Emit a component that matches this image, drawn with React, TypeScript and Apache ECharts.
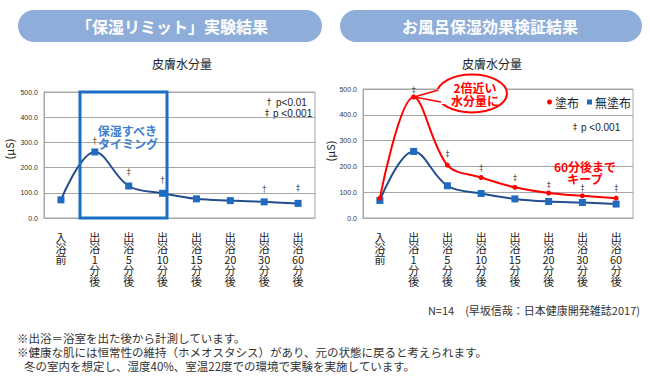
import React, { useEffect, useRef } from 'react';
import * as echarts from 'echarts';

const categories = ['入浴前', '出浴1分後', '出浴5分後', '出浴10分後', '出浴15分後', '出浴20分後', '出浴30分後', '出浴60分後'];
const yMin = 0;
const yMax = 500;
const yInterval = 100;

// 左：保湿リミット実験
const leftValues = [72, 262, 127, 98, 76, 69, 64, 58];
const leftSigMarks = ['', '†', '‡', '†', '', '', '†', '‡'];
const leftSigHeights: (number | null)[] = [null, 306, 183, 151, null, null, 119, 123];

// 右：お風呂保湿効果検証
const coatedValues = [77, 469, 205, 157, 119, 97, 86, 77];
const uncoatedValues = [68, 258, 125, 95, 74, 64, 60, 54];
const rightSigMarks = ['', '‡', '‡', '‡', '‡', '‡', '‡', '‡'];
const rightSigHeights: (number | null)[] = [null, 497, 249, 195, 156, 129, 117, 117];

const FONT = '"Noto Sans CJK JP", "Noto Sans", sans-serif';
const NUMFONT = '"Liberation Sans", Arial, sans-serif';
const MARKFONT = '"DejaVu Sans", sans-serif';
const BLUE_LINE = '#234E8E';
const BLUE_MARK = '#1F6BC0';
const RED = '#FF0000';
const GRID_GRAY = '#A6A6A6';
const PILL = '#8FADD9';
const MARK_COLOR = '#222';

const vertical = (s: string) => (s.match(/\d+|./g) || []).join('\n');

function makeAxes(gridIndex: number) {
  const x = {
    type: 'category',
    gridIndex,
    data: categories,
    boundaryGap: true,
    axisLine: { show: true, lineStyle: { color: GRID_GRAY } },
    axisTick: { show: false },
    axisLabel: {
      formatter: (v: string) => vertical(v),
      fontFamily: FONT,
      fontSize: 11,
      lineHeight: 10.8,
      color: '#222',
      margin: 14,
      interval: 0,
      verticalAlign: 'top',
    },
  };
  const y = {
    type: 'value',
    gridIndex,
    min: yMin,
    max: yMax,
    interval: yInterval,
    axisLine: { show: true, lineStyle: { color: GRID_GRAY } },
    axisTick: { show: false },
    splitLine: { show: true, lineStyle: { color: GRID_GRAY, width: 1 } },
    axisLabel: {
      formatter: (v: number) => v.toFixed(1),
      fontFamily: NUMFONT,
      fontSize: 7,
      color: '#333',
      margin: 6,
    },
  };
  return { x, y };
}

function sigSeries(name: string, axisIndex: number, marks: string[], heights: (number | null)[]) {
  return {
    name,
    type: 'scatter',
    xAxisIndex: axisIndex,
    yAxisIndex: axisIndex,
    symbol: 'circle',
    symbolSize: 0,
    itemStyle: { color: MARK_COLOR },
    silent: true,
    z: 5,
    data: heights.map((h, i) => (h == null ? [i, '-'] : [i, h])),
    label: {
      show: true,
      position: 'top',
      distance: -5,
      formatter: (p: any) => marks[p.dataIndex],
      fontFamily: MARKFONT,
      fontSize: 8,
      color: MARK_COLOR,
    },
  };
}

export default function App() {
  const ref = useRef<HTMLDivElement>(null);

  useEffect(() => {
    if (!ref.current) return;
    const chart = echarts.init(ref.current, undefined, { renderer: 'svg' });
    const a0 = makeAxes(0);
    const a1 = makeAxes(1);

    const tailWhite = [[414, 97], [438, 89], [446, 89], [446, 104], [441, 104]];

    chart.setOption({
      animation: false,
      backgroundColor: '#fff',
      textStyle: { fontFamily: FONT },
      grid: [
        { left: 44, top: 92, width: 271, height: 126, show: true, borderColor: GRID_GRAY, borderWidth: 1, backgroundColor: 'transparent' },
        { left: 363, top: 89, width: 270, height: 129, show: true, borderColor: GRID_GRAY, borderWidth: 1, backgroundColor: 'transparent' },
      ],
      xAxis: [a0.x, a1.x],
      yAxis: [a0.y, a1.y],
      legend: {
        left: 547,
        top: 96,
        itemWidth: 5,
        itemHeight: 5,
        itemGap: 8,
        padding: 0,
        textStyle: { fontFamily: FONT, fontSize: 12, color: '#222', padding: [0, 0, 0, -2] },
        data: [
          { name: '塗布', icon: 'circle', itemStyle: { color: RED } },
          { name: '無塗布', icon: 'rect', itemStyle: { color: BLUE_MARK } },
        ],
        selectedMode: false,
      },
      series: [
        {
          name: '皮膚水分量',
          type: 'line',
          xAxisIndex: 0,
          yAxisIndex: 0,
          data: leftValues,
          smooth: 0.38,
          symbol: 'rect',
          symbolSize: 7,
          lineStyle: { color: BLUE_LINE, width: 2 },
          itemStyle: { color: BLUE_MARK },
          z: 3,
        },
        sigSeries('sigL', 0, leftSigMarks, leftSigHeights),
        {
          name: '無塗布',
          type: 'line',
          xAxisIndex: 1,
          yAxisIndex: 1,
          data: uncoatedValues,
          smooth: 0.38,
          symbol: 'rect',
          symbolSize: 7,
          lineStyle: { color: BLUE_LINE, width: 2 },
          itemStyle: { color: BLUE_MARK },
          z: 3,
        },
        {
          name: '塗布',
          type: 'line',
          xAxisIndex: 1,
          yAxisIndex: 1,
          data: coatedValues,
          smooth: 0.35,
          symbol: 'circle',
          symbolSize: 5,
          lineStyle: { color: RED, width: 2 },
          itemStyle: { color: RED },
          z: 4,
        },
        sigSeries('sigR', 1, rightSigMarks, rightSigHeights),
      ],
      graphic: [
        // header pills
        { type: 'rect', shape: { x: 18, y: 10, width: 304, height: 32, r: 16 }, style: { fill: PILL } },
        { type: 'rect', shape: { x: 340, y: 10, width: 302, height: 32, r: 16 }, style: { fill: PILL } },
        { type: 'text', x: 172, y: 26, style: { text: '「保湿リミット」実験結果', fill: '#fff', font: `bold 16px ${FONT}`, textAlign: 'center', textVerticalAlign: 'middle' } },
        { type: 'text', x: 490, y: 26, style: { text: 'お風呂保湿効果検証結果', fill: '#fff', font: `bold 16px ${FONT}`, textAlign: 'center', textVerticalAlign: 'middle' } },
        // subtitles
        { type: 'text', x: 182, y: 63, style: { text: '皮膚水分量', fill: '#222', font: `12px ${FONT}`, textAlign: 'center', textVerticalAlign: 'middle' } },
        { type: 'text', x: 492, y: 63, style: { text: '皮膚水分量', fill: '#222', font: `12px ${FONT}`, textAlign: 'center', textVerticalAlign: 'middle' } },
        // y-axis names
        { type: 'text', x: 9, y: 149, rotation: Math.PI / 2, style: { text: '(μS)', fill: '#222', font: `11px ${FONT}`, textAlign: 'center', textVerticalAlign: 'middle' } },
        { type: 'text', x: 330, y: 151, rotation: Math.PI / 2, style: { text: '(μS)', fill: '#222', font: `11px ${FONT}`, textAlign: 'center', textVerticalAlign: 'middle' } },
        // left legend for significance
        { type: 'text', x: 267, y: 102, style: { text: '†', fill: '#222', font: `8px ${MARKFONT}`, textAlign: 'left', textVerticalAlign: 'middle' } },
        { type: 'text', x: 276, y: 102, style: { text: 'p<0.01', fill: '#222', font: `10px ${NUMFONT}`, textAlign: 'left', textVerticalAlign: 'middle' } },
        { type: 'text', x: 265, y: 113, style: { text: '‡', fill: '#222', font: `8px ${MARKFONT}`, textAlign: 'left', textVerticalAlign: 'middle' } },
        { type: 'text', x: 273, y: 113, style: { text: 'p <0.001', fill: '#222', font: `10px ${NUMFONT}`, textAlign: 'left', textVerticalAlign: 'middle' } },
        // left highlight box
        { type: 'rect', z: 10, shape: { x: 80, y: 92, width: 87, height: 126 }, style: { fill: 'none', stroke: '#1A6FC4', lineWidth: 3 } },
        { type: 'text', z: 10, x: 157, y: 130, style: { text: '保湿すべき', fill: '#3D7FD0', font: `bold 12px ${FONT}`, textAlign: 'right', textVerticalAlign: 'middle' } },
        { type: 'text', z: 10, x: 158, y: 143, style: { text: 'タイミング', fill: '#3D7FD0', font: `bold 12px ${FONT}`, textAlign: 'right', textVerticalAlign: 'middle' } },
        // right legend for significance
        { type: 'text', x: 573, y: 127, style: { text: '‡', fill: '#222', font: `8px ${MARKFONT}`, textAlign: 'left', textVerticalAlign: 'middle' } },
        { type: 'text', x: 581, y: 127, style: { text: 'p <0.001', fill: '#222', font: `10px ${NUMFONT}`, textAlign: 'left', textVerticalAlign: 'middle' } },
        // callout bubble
        { type: 'ellipse', z: 10, shape: { cx: 472, cy: 93.5, rx: 35, ry: 19 }, style: { fill: '#fff', stroke: RED, lineWidth: 2 } },
        { type: 'polygon', z: 11, shape: { points: tailWhite }, style: { fill: '#fff' } },
        { type: 'polyline', z: 12, shape: { points: [[438.5, 90], [414, 97], [441, 102]] }, style: { fill: 'none', stroke: RED, lineWidth: 1.6 } },
        { type: 'text', z: 12, x: 475, y: 87, style: { text: '2倍近い', fill: RED, font: `bold 12px ${FONT}`, textAlign: 'center', textVerticalAlign: 'middle' } },
        { type: 'text', z: 12, x: 475, y: 100, style: { text: '水分量に', fill: RED, font: `bold 12px ${FONT}`, textAlign: 'center', textVerticalAlign: 'middle' } },
        // keep annotation
        { type: 'text', z: 12, x: 585, y: 166, style: { text: '60分後まで', fill: RED, font: `bold 12px ${FONT}`, textAlign: 'center', textVerticalAlign: 'middle' } },
        { type: 'text', z: 12, x: 585, y: 178, style: { text: 'キープ', fill: RED, font: `bold 12px ${FONT}`, textAlign: 'center', textVerticalAlign: 'middle' } },
        // source
        { type: 'text', x: 640, y: 310, style: { text: 'N=14　(早坂信哉：日本健康開発雑誌2017)', fill: '#333', font: `11px ${FONT}`, textAlign: 'right', textVerticalAlign: 'middle' } },
        // footnotes
        { type: 'text', x: 17, y: 338, style: { text: '※出浴＝浴室を出た後から計測しています。', fill: '#333', font: `11.5px ${FONT}`, textAlign: 'left', textVerticalAlign: 'middle' } },
        { type: 'text', x: 17, y: 352, style: { text: '※健康な肌には恒常性の維持（ホメオスタシス）があり、元の状態に戻ると考えられます。', fill: '#333', font: `11.5px ${FONT}`, textAlign: 'left', textVerticalAlign: 'middle' } },
        { type: 'text', x: 24, y: 366, style: { text: '冬の室内を想定し、湿度40%、室温22度での環境で実験を実施しています。', fill: '#333', font: `11.5px ${FONT}`, textAlign: 'left', textVerticalAlign: 'middle' } },
      ],
    });
    return () => chart.dispose();
  }, []);

  return <div ref={ref} style={{ position: 'absolute', left: 0, top: 0, width: 650, height: 380 }} />;
}
